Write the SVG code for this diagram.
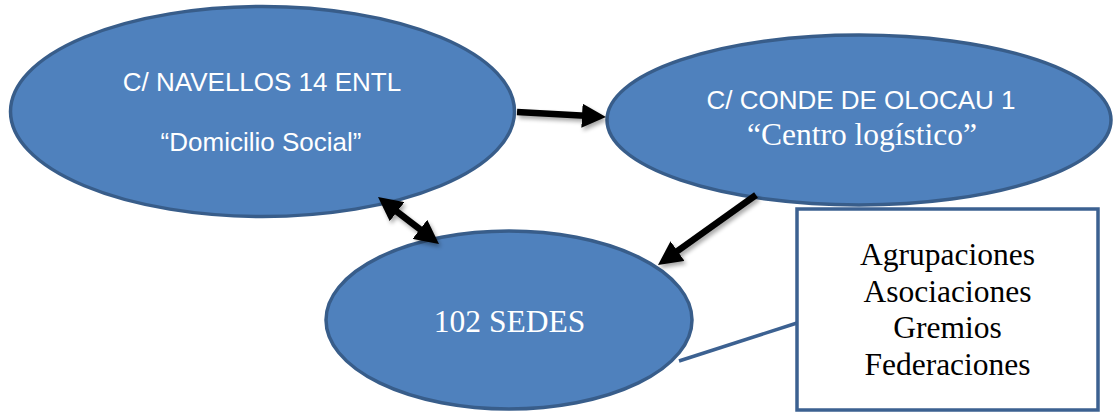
<svg xmlns="http://www.w3.org/2000/svg" width="1113" height="412" viewBox="0 0 1113 412">
  <style>
    .node { fill: #4f81bd; stroke: #385d8a; stroke-width: 3.5; }
    .sans { font-family: "Liberation Sans", Arial, sans-serif; font-size: 26px; fill: #ffffff; text-anchor: middle; }
    .serif { font-family: "Liberation Serif", "Times New Roman", serif; font-size: 31.5px; fill: #ffffff; text-anchor: middle; }
    .boxtext { font-family: "Liberation Serif", "Times New Roman", serif; font-size: 31.5px; fill: #000000; text-anchor: middle; }
    .box { fill: #ffffff; stroke: #3c6191; stroke-width: 3.5; }
    .arrow { stroke: #000000; stroke-width: 6.5; fill: none; }
    .link { stroke: #3c6191; stroke-width: 3.5; fill: none; }
  </style>
  <defs>
    <marker id="head" viewBox="0 0 24 24" markerUnits="userSpaceOnUse" markerWidth="24" markerHeight="24" refX="8" refY="12" orient="auto-start-reverse">
      <path d="M0,0 L24,12 L0,24 Z" fill="#000000"/>
    </marker>
    <filter id="shadow" x="-20%" y="-20%" width="140%" height="140%">
      <feGaussianBlur in="SourceAlpha" stdDeviation="2"/>
      <feOffset dx="2" dy="3" result="b"/>
      <feComponentTransfer><feFuncA type="linear" slope="0.35"/></feComponentTransfer>
      <feMerge><feMergeNode/><feMergeNode in="SourceGraphic"/></feMerge>
    </filter>
  </defs>

  <g id="node-navellos">
    <ellipse class="node" cx="262.5" cy="111.5" rx="252" ry="105"/>
    <text class="sans" x="262" y="91">C/ NAVELLOS 14 ENTL</text>
    <text class="sans" x="261" y="151">“Domicilio Social”</text>
  </g>

  <g id="node-olocau">
    <ellipse class="node" cx="859" cy="120" rx="252" ry="85"/>
    <text class="sans" x="861" y="109">C/ CONDE DE OLOCAU 1</text>
    <text class="serif" x="862" y="145">“Centro logístico”</text>
  </g>

  <g id="node-sedes">
    <ellipse class="node" cx="509" cy="320" rx="183" ry="89"/>
    <text class="serif" x="509.5" y="332">102 SEDES</text>
  </g>

  <g id="node-tipos">
    <rect class="box" x="797" y="209" width="301" height="201"/>
    <text class="boxtext" x="947.5" y="265">Agrupaciones</text>
    <text class="boxtext" x="947.5" y="302">Asociaciones</text>
    <text class="boxtext" x="947.5" y="338">Gremios</text>
    <text class="boxtext" x="947.5" y="375">Federaciones</text>
  </g>

  <g id="connectors">
    <g filter="url(#shadow)">
      <line class="arrow" x1="517" y1="112" x2="590" y2="116.1" marker-end="url(#head)"/>
      <line class="arrow" x1="756" y1="195" x2="671" y2="255.7" marker-end="url(#head)"/>
      <line class="arrow" x1="390.7" y1="206.8" x2="426.3" y2="234.2" marker-start="url(#head)" marker-end="url(#head)"/>
    </g>
    <line class="link" x1="679" y1="361" x2="797" y2="323"/>
  </g>
</svg>
